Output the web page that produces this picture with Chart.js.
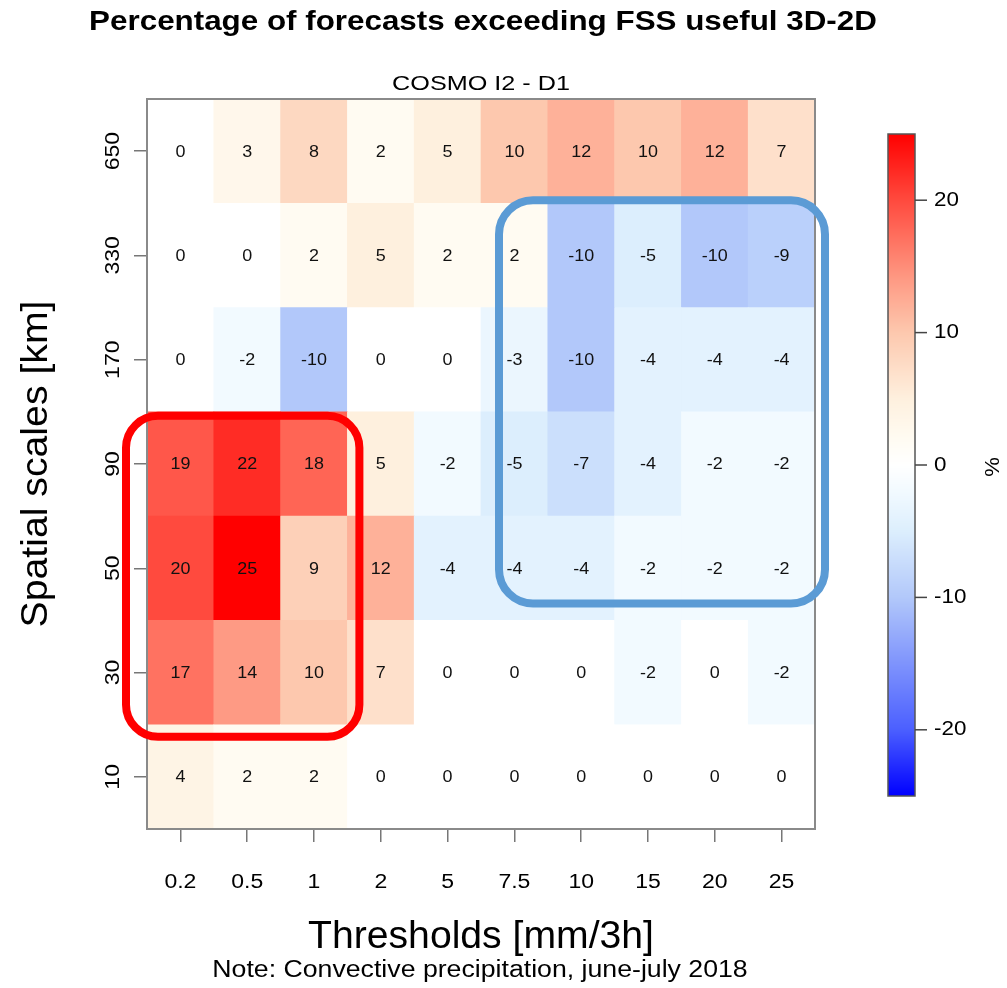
<!DOCTYPE html>
<html>
<head>
<meta charset="utf-8">
<script src="https://cdn.jsdelivr.net/npm/chart.js@4.4.1/dist/chart.umd.min.js"></script>
<style>
  html, body { margin: 0; padding: 0; background: #fff; }
  #wrap { width: 1007px; height: 988px; }
</style>
</head>
<body>
<div id="wrap"><canvas id="heat" width="1007" height="988"></canvas></div>
<script>
// categories (x) and spatial scales (y, bottom -> top)
const thresholds = ['0.2', '0.5', '1', '2', '5', '7.5', '10', '15', '20', '25'];
const spatialScales = ['10', '30', '50', '90', '170', '330', '650'];

// percentage values, one array per spatial scale
const row10  = [4, 2, 2, 0, 0, 0, 0, 0, 0, 0];
const row30  = [17, 14, 10, 7, 0, 0, 0, -2, 0, -2];
const row50  = [20, 25, 9, 12, -4, -4, -4, -2, -2, -2];
const row90  = [19, 22, 18, 5, -2, -5, -7, -4, -2, -2];
const row170 = [0, -2, -10, 0, 0, -3, -10, -4, -4, -4];
const row330 = [0, 0, 2, 5, 2, 2, -10, -5, -10, -9];
const row650 = [0, 3, 8, 2, 5, 10, 12, 10, 12, 7];
const rows = [row10, row30, row50, row90, row170, row330, row650];

// colour bar
const colorbarTicks = [-20, -10, 0, 10, 20];
const colorbarMin = -25, colorbarMax = 25;

// palette stops (value -> rgb)
const palette = [
  [-25, [0, 0, 255]],
  [-20, [75, 95, 255]],
  [-10, [178, 200, 250]],
  [-5, [220, 238, 253]],
  [-2, [242, 250, 255]],
  [0, [255, 255, 255]],
  [2, [255, 251, 242]],
  [5, [254, 240, 222]],
  [10, [253, 200, 174]],
  [14, [254, 154, 132]],
  [20, [255, 74, 62]],
  [25, [255, 0, 0]]
];

function colorFor(v) {
  if (v <= palette[0][0]) return 'rgb(' + palette[0][1].join(',') + ')';
  for (let i = 1; i < palette.length; i++) {
    if (v <= palette[i][0]) {
      const [v0, c0] = palette[i - 1];
      const [v1, c1] = palette[i];
      const t = (v - v0) / (v1 - v0);
      const c = c0.map((a, k) => Math.round(a + (c1[k] - a) * t));
      return 'rgb(' + c.join(',') + ')';
    }
  }
  return 'rgb(' + palette[palette.length - 1][1].join(',') + ')';
}

const FONT = '"Liberation Sans", Arial, sans-serif';

// draw text, a bit wider like the original R png
function txt(ctx, s, x, y, size, opts = {}) {
  ctx.save();
  ctx.translate(x, y);
  if (opts.rotate) ctx.rotate(-Math.PI / 2);
  ctx.scale(opts.stretch || 1.1, 1);
  ctx.font = (opts.bold ? 'bold ' : '') + size + 'px ' + FONT;
  ctx.fillStyle = opts.color || '#000';
  ctx.textAlign = opts.align || 'center';
  ctx.textBaseline = 'middle';
  ctx.fillText(s, 0, 0);
  ctx.restore();
}

function roundRect(ctx, x0, y0, x1, y1, r, color) {
  ctx.save();
  ctx.strokeStyle = color;
  ctx.lineWidth = 8;
  ctx.beginPath();
  ctx.roundRect(x0, y0, x1 - x0, y1 - y0, r);
  ctx.stroke();
  ctx.restore();
}

const heatPlugin = {
  id: 'heatExtras',
  afterDatasetsDraw(chart) {
    const { ctx, chartArea: a, scales: { x, y } } = chart;

    // cell numbers
    chart.data.datasets.forEach((ds, di) => {
      chart.getDatasetMeta(di).data.forEach((bar, i) => {
        const p = bar.getProps(['x', 'base', 'y'], true);
        txt(ctx, String(rows[di][i]), p.x, (p.y + p.base) / 2 + 1, 16, { stretch: 1.12, color: '#111' });
      });
    });

    // frame
    ctx.save();
    ctx.strokeStyle = '#8a8a8a';
    ctx.lineWidth = 2;
    ctx.strokeRect(a.left, a.top, a.right - a.left, a.bottom - a.top);
    ctx.restore();

    // highlight boxes
    const cw = x.getPixelForValue(1) - x.getPixelForValue(0);
    const redL = x.getPixelForValue(0) - cw / 2 - 21;
    const redR = x.getPixelForValue(2) + cw / 2 + 12;
    const redT = y.getPixelForValue(3.5) + 4;
    const redB = y.getPixelForValue(0.5) + 12;
    roundRect(ctx, redL, redT, redR, redB, 32, '#ff0000');

    const bluL = x.getPixelForValue(5) - cw / 2 + 18;
    const bluR = x.getPixelForValue(9) + cw / 2 + 10;
    const bluT = y.getPixelForValue(5.5) - 3;
    const bluB = y.getPixelForValue(1.5) - 17;
    roundRect(ctx, bluL, bluT, bluR, bluB, 34, '#5b9bd5');
  },
  afterDraw(chart) {
    const { ctx, chartArea: a, scales: { x, y } } = chart;

    // tick labels
    thresholds.forEach((t, i) => txt(ctx, t, x.getPixelForValue(i), 882, 20, { stretch: 1.15 }));
    spatialScales.forEach((s, i) => txt(ctx, s, 113, y.getPixelForValue(i), 20, { rotate: true, stretch: 1.15 }));

    // titles
    txt(ctx, 'Percentage of forecasts exceeding FSS useful 3D-2D', 483, 22, 28, { bold: true, stretch: 1.12 });
    txt(ctx, 'COSMO I2 - D1', (a.left + a.right) / 2, 84, 21, { stretch: 1.2 });
    txt(ctx, 'Thresholds [mm/3h]', (a.left + a.right) / 2, 938, 38, { stretch: 1.03 });
    txt(ctx, 'Note: Convective precipitation, june-july 2018', 480, 971, 23, { stretch: 1.16 });
    txt(ctx, 'Spatial scales [km]', 37, (a.top + a.bottom) / 2, 37, { rotate: true, stretch: 1.06 });

    // colour bar
    const cbL = 888, cbR = 915, cbT = 134, cbB = 796;
    const vToY = v => cbB - (v - colorbarMin) / (colorbarMax - colorbarMin) * (cbB - cbT);
    for (let py = cbT; py < cbB; py++) {
      const v = colorbarMin + (cbB - py - 0.5) / (cbB - cbT) * (colorbarMax - colorbarMin);
      ctx.fillStyle = colorFor(v);
      ctx.fillRect(cbL, py, cbR - cbL, 1);
    }
    ctx.save();
    ctx.strokeStyle = '#555';
    ctx.lineWidth = 1.5;
    ctx.strokeRect(cbL, cbT, cbR - cbL, cbB - cbT);
    ctx.strokeStyle = '#444';
    colorbarTicks.forEach(t => {
      const ty = vToY(t);
      ctx.beginPath();
      ctx.moveTo(cbR, ty);
      ctx.lineTo(cbR + 12, ty);
      ctx.stroke();
      txt(ctx, String(t), cbR + 19, ty, 20, { align: 'left', stretch: 1.12 });
    });
    ctx.restore();
    txt(ctx, '%', 993, vToY(0) + 2, 20, { rotate: true });
  }
};

const datasets = rows.map((vals, r) => ({
  label: spatialScales[r],
  data: vals.map(() => [r - 0.5, r + 0.5]),
  backgroundColor: vals.map(colorFor),
  borderWidth: 0,
  barPercentage: 1,
  categoryPercentage: 1,
  grouped: false
}));

new Chart(document.getElementById('heat'), {
  type: 'bar',
  data: { labels: thresholds, datasets },
  options: {
    responsive: false,
    devicePixelRatio: 1,
    animation: false,
    layout: { padding: { top: 99, right: 192, left: 0, bottom: 0 } },
    plugins: { legend: { display: false }, tooltip: { enabled: false }, title: { display: false } },
    scales: {
      x: {
        type: 'category',
        offset: true,
        ticks: { display: false },
        grid: { offset: false, drawOnChartArea: false, drawTicks: true, tickLength: 13, color: '#777', lineWidth: 1.5 },
        border: { display: false },
        afterFit: s => { s.height = 988 - 829; }
      },
      y: {
        type: 'linear',
        min: -0.5,
        max: 6.5,
        ticks: { display: false },
        afterBuildTicks: s => { s.ticks = spatialScales.map((_, i) => ({ value: i })); },
        grid: { drawOnChartArea: false, drawTicks: true, tickLength: 13, color: '#777', lineWidth: 1.5 },
        border: { display: false },
        afterFit: s => { s.width = 147; }
      }
    }
  },
  plugins: [heatPlugin]
});
</script>
</body>
</html>
